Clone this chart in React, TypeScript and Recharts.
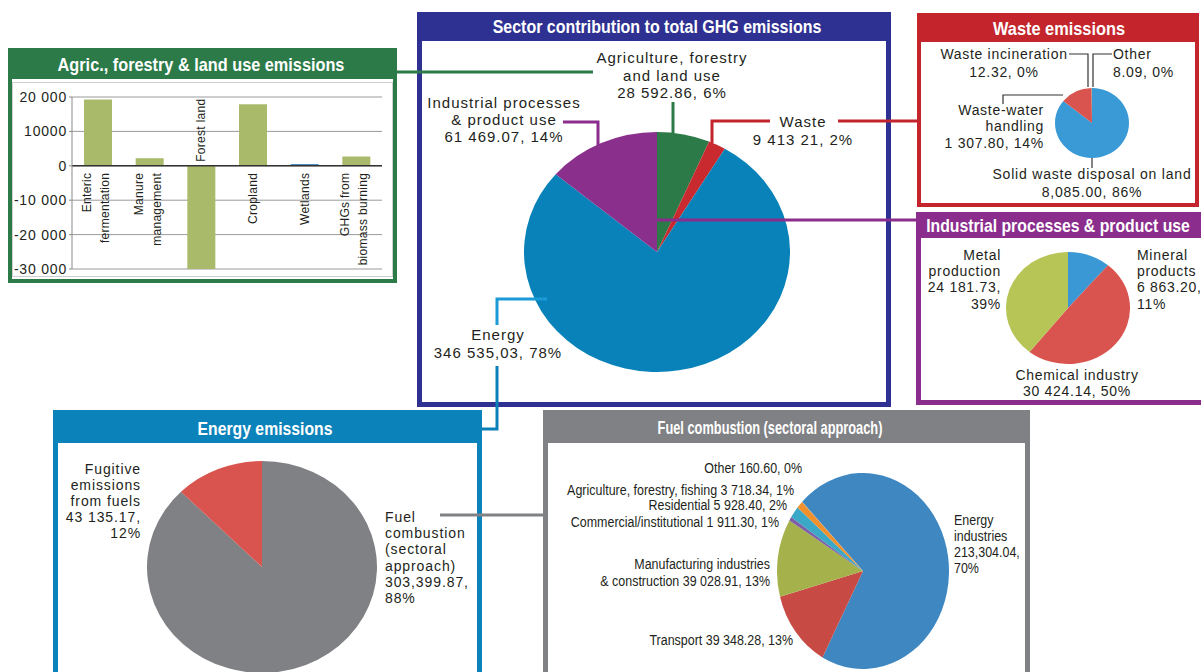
import {
  Bar,
  BarChart,
  CartesianGrid,
  Cell,
  LabelList,
  Pie,
  PieChart,
  ReferenceLine,
  XAxis,
  YAxis,
} from "recharts";

// sector totals (main pie)
const sectorNames = ["Agriculture, forestry and land use", "Waste", "Energy", "Industrial processes & product use"];
const sectorValues = [28592.86, 9413.21, 346535.03, 61469.07];
const sectorColors = ["#2b7a48", "#c92a2f", "#0882b9", "#8b2f8c"];

// agric, forestry & land use bars
const agriCats = ["Enteric\nfermentation", "Manure\nmanagement", "Forest land", "Cropland", "Wetlands", "GHGs from\nbiomass burning"];
const agriValues = [19300, 2200, -30000, 17900, 500, 2700];
const agriColors = ["#a9bb6a", "#a9bb6a", "#a9bb6a", "#a9bb6a", "#3f86c6", "#a9bb6a"];
const agriTicks = [-30000, -20000, -10000, 0, 10000, 20000];
const agriTickLabels = ["-30 000", "-20 000", "-10 000", "0", "10000", "20 000"];

const wasteNames = ["Solid waste disposal on land", "Waste-water handling", "Waste incineration", "Other"];
const wasteValues = [8085.0, 1307.8, 12.32, 8.09];
const wasteColors = ["#3a9ad6", "#d9534f", "#8064a2", "#b5c653"];

const industryNames = ["Mineral products", "Chemical industry", "Metal production"];
const industryValues = [6863.2, 30424.14, 24181.73];
const industryColors = ["#3a98d4", "#d9534f", "#b6c555"];

const energyNames = ["Fuel combustion (sectoral approach)", "Fugitive emissions from fuels"];
const energyValues = [303399.87, 43135.17];
const energyColors = ["#808184", "#d9534f"];

const fuelNames = [
  "Energy industries",
  "Transport",
  "Manufacturing industries & construction",
  "Commercial/institutional",
  "Residential",
  "Agriculture, forestry, fishing",
  "Other",
];
const fuelValues = [213304.04, 39348.28, 39028.91, 1911.3, 5928.4, 3718.34, 160.6];
const fuelColors = ["#3f87c1", "#c84a45", "#a5b24c", "#7c5fa6", "#3aa8c6", "#f0912d", "#9a9a9a"];

const FONT = '"Liberation Sans", Arial, sans-serif';
const INK = "#231f20";
const TITLE_FONT = `bold 18px ${FONT}`;

const panels = [
  { title: "Agric., forestry & land use emissions", color: "#2b7a48", x: 8, y: 48, w: 389, h: 235, th: 31, b: 4, tx: 201, ty: 64, tw: 287 },
  { title: "Sector contribution to total GHG emissions", color: "#2e3192", x: 417, y: 12, w: 474, h: 395, th: 29, b: 5, tx: 657, ty: 26, tw: 329 },
  { title: "Waste emissions", color: "#c4242b", x: 917, y: 13, w: 282, h: 194, th: 29, b: 4, tx: 1059, ty: 28, tw: 132 },
  { title: "Industrial processes & product use", color: "#8a2d8c", x: 916, y: 212, w: 290, h: 193, th: 26, b: 5, tx: 1058, ty: 225, tw: 264 },
  { title: "Energy emissions", color: "#0b82ba", x: 53, y: 410, w: 429, h: 280, th: 33, b: 5, tx: 265, ty: 428, tw: 135 },
  { title: "Fuel combustion (sectoral approach)", color: "#808184", x: 543, y: 410, w: 487, h: 280, th: 33, b: 5, tx: 770, ty: 427, tw: 225 },
];

// squeeze titles to the width they have in the picture
const ctx = document.createElement("canvas").getContext("2d");
const textWidth = (t: string, font: string) => {
  if (!ctx) return t.length * 10;
  ctx.font = font;
  return ctx.measureText(t).width;
};

const EllipsePie = ({ names, values, colors, cx, cy, rx, ry, start }: any) => {
  const R = Math.max(rx, ry);
  const data = names.map((n: string, i: number) => ({ name: n, value: values[i] }));
  return (
    <div style={{ position: "absolute", left: cx - rx, top: cy - ry, width: 2 * rx, height: 2 * ry }}>
      <div style={{ width: 2 * R, height: 2 * R, transform: `scale(${rx / R}, ${ry / R})`, transformOrigin: "0 0" }}>
        <PieChart width={2 * R} height={2 * R} margin={{ top: 0, right: 0, bottom: 0, left: 0 }}>
          <Pie
            data={data}
            dataKey="value"
            nameKey="name"
            cx={R}
            cy={R}
            outerRadius={R}
            startAngle={start}
            endAngle={start - 360}
            stroke="none"
            isAnimationActive={false}
          >
            {colors.map((c: string, i: number) => (
              <Cell key={i} fill={c} />
            ))}
          </Pie>
        </PieChart>
      </div>
    </div>
  );
};

const Lbl = ({ x, y, lines, anchor = "middle", size = 14, ls = 0.7, lh = 16, sx = 1 }: any) => (
  <text
    transform={`translate(${x},${y + size * 0.35}) scale(${sx},1)`}
    textAnchor={anchor}
    fontSize={size}
    letterSpacing={ls}
    fill={INK}
  >
    {lines.map((l: string, i: number) => (
      <tspan key={i} x={0} dy={i === 0 ? 0 : lh}>
        {l}
      </tspan>
    ))}
  </text>
);

// rotated category names sitting on the zero line
const CatLabel = (props: any) => {
  const vb = props.viewBox || props;
  const { x, y, width, height } = vb;
  const i = props.index;
  const v = agriValues[i];
  const zeroY = v < 0 ? Math.min(y, y + height) : Math.max(y, y + height);
  const cx = x + width / 2;
  const lines = agriCats[i].split("\n");
  const by = v < 0 ? zeroY - 4 : zeroY + 7;
  const offs = lines.length === 1 ? [4] : [-7, 11];
  return (
    <g>
      {lines.map((l, k) => (
        <text
          key={k}
          x={cx + offs[k]}
          y={by}
          transform={`rotate(-90 ${cx + offs[k]} ${by})`}
          textAnchor={v < 0 ? "start" : "end"}
          fontSize={12}
          letterSpacing={0.3}
          fill={INK}
        >
          {l}
        </text>
      ))}
    </g>
  );
};

const AgriBars = () => {
  const data = agriCats.map((c, i) => ({ name: c, value: agriValues[i] }));
  return (
    <div style={{ position: "absolute", left: 12, top: 82, width: 381, height: 195, boxSizing: "border-box", border: "1px solid #cfcfcf" }}>
      <div style={{ position: "absolute", left: -1, top: -1 }}>
        <BarChart width={381} height={195} data={data} margin={{ top: 15, right: 11, bottom: 8, left: 8 }}>
          <CartesianGrid vertical={false} stroke="#9a9a9a" />
          <XAxis dataKey="name" hide />
          <YAxis
            width={52}
            domain={[-30000, 20000]}
            ticks={agriTicks}
            tickFormatter={(v) => agriTickLabels[agriTicks.indexOf(v)]}
            tick={{ fontSize: 14, fill: INK, letterSpacing: 0.8 }}
            axisLine={{ stroke: "#8a8a8a" }}
            tickLine={{ stroke: "#8a8a8a" }}
            tickSize={3}
            tickMargin={2}
          />
          <ReferenceLine y={0} stroke="#333" strokeWidth={1.5} />
          <Bar dataKey="value" barSize={28} isAnimationActive={false}>
            {agriColors.map((c, i) => (
              <Cell key={i} fill={c} />
            ))}
            <LabelList dataKey="name" content={<CatLabel />} />
          </Bar>
        </BarChart>
      </div>
    </div>
  );
};

export default function App() {
  return (
    <div
      style={{
        position: "absolute",
        left: 0,
        top: 0,
        width: 1201,
        height: 672,
        overflow: "hidden",
        background: "#fff",
        fontFamily: FONT,
      }}
    >
      {panels.map((p) => (
        <div key={p.title} style={{ position: "absolute", left: p.x, top: p.y, width: p.w, height: p.h, background: p.color }}>
          <div style={{ position: "absolute", left: p.b, right: p.b, top: p.th, bottom: p.b, background: "#fff" }} />
        </div>
      ))}

      <AgriBars />

      <EllipsePie names={sectorNames} values={sectorValues} colors={sectorColors} cx={657} cy={252} rx={133} ry={120} start={90} />
      <EllipsePie names={wasteNames} values={wasteValues} colors={wasteColors} cx={1092} cy={123} rx={37} ry={35} start={90} />
      <EllipsePie names={industryNames} values={industryValues} colors={industryColors} cx={1068} cy={308} rx={62} ry={56} start={90} />
      <EllipsePie names={energyNames} values={energyValues} colors={energyColors} cx={262} cy={567} rx={115} ry={106} start={90} />
      <EllipsePie names={fuelNames} values={fuelValues} colors={fuelColors} cx={863} cy={571} rx={86} ry={98} start={135} />

      <svg
        width={1201}
        height={672}
        style={{ position: "absolute", left: 0, top: 0, pointerEvents: "none", fontFamily: FONT }}
      >
        {panels.map((p) => (
          <text
            key={p.title}
            transform={`translate(${p.tx},${p.ty + 6.5}) scale(${p.tw / textWidth(p.title, TITLE_FONT)},1)`}
            textAnchor="middle"
            fontSize={18}
            fontWeight={700}
            fill="#fff"
          >
            {p.title}
          </text>
        ))}

        {/* connectors */}
        <g fill="none" strokeWidth={3}>
          <path d="M397,72 H593 M673,102 V133" stroke="#2b7a48" />
          <path d="M563,122 H598 V145 M657,220 H916" stroke="#8a2d8c" />
          <path d="M712,143 V121 H770 M838,121 H917" stroke="#c4242b" />
          <path d="M547,299 H497 V325" stroke="#1a9ad6" />
          <path d="M497,366 V429 H482" stroke="#0a7fb8" />
          <path d="M440,515 H543" stroke="#808184" />
        </g>
        <g fill="none" strokeWidth={1.2} stroke="#333">
          <path d="M1069,54 H1088 V87 M1112,54 H1093 V87 M1003,104 V95 H1063 M1092,158 V168" />
        </g>

        {/* main pie labels */}
        <Lbl x={672} y={58} lines={["Agriculture, forestry", "and land  use", "28 592.86, 6%"]} size={15} ls={1} lh={17.5} />
        <Lbl x={504} y={103} lines={["Industrial processes", "& product use", "61 469.07, 14%"]} size={15} ls={1} lh={17} />
        <Lbl x={803} y={122} lines={["Waste", "9 413 21, 2%"]} size={15} ls={1} lh={18} />
        <Lbl x={498} y={335} lines={["Energy", "346 535,03, 78%"]} size={15} ls={1} lh={18} />

        {/* waste labels */}
        <Lbl x={1004} y={54} lines={["Waste incineration", "12.32, 0%"]} lh={18} />
        <Lbl x={1113} y={54} anchor="start" lines={["Other", "8.09, 0%"]} lh={18} />
        <Lbl x={1044} y={110} anchor="end" lines={["Waste-water", "handling", "1 307.80, 14%"]} lh={16.5} />
        <Lbl x={1092} y={174} lines={["Solid waste disposal on land", "8,085.00, 86%"]} lh={18} ls={0.8} />

        {/* industrial labels */}
        <Lbl x={1001} y={255} anchor="end" lines={["Metal", "production", "24 181.73,", "39%"]} lh={16.3} />
        <Lbl x={1137} y={255} anchor="start" lines={["Mineral", "products", "6 863.20,", "11%"]} lh={16.3} />
        <Lbl x={1077} y={375} lines={["Chemical industry", "30 424.14, 50%"]} lh={16} />

        {/* energy labels */}
        <Lbl x={141} y={469} anchor="end" lines={["Fugitive", "emissions", "from fuels", "43 135.17,", "12%"]} lh={16} ls={0.9} />
        <Lbl x={385} y={517} anchor="start" lines={["Fuel", "combustion", "(sectoral", "approach)", "303,399.87,", "88%"]} lh={16.3} ls={0.9} />

        {/* fuel combustion labels */}
        <Lbl x={802} y={468} anchor="end" sx={0.89} ls={0} lines={["Other 160.60, 0%"]} />
        <Lbl x={794} y={490} anchor="end" sx={0.89} ls={0} lines={["Agriculture, forestry, fishing 3 718.34, 1%"]} />
        <Lbl x={787} y={505} anchor="end" sx={0.89} ls={0} lines={["Residential 5 928.40, 2%"]} />
        <Lbl x={779} y={522} anchor="end" sx={0.89} ls={0} lines={["Commercial/institutional 1 911.30, 1%"]} />
        <Lbl x={770} y={564} anchor="end" sx={0.89} ls={0} lh={17} lines={["Manufacturing industries", "& construction 39 028.91, 13%"]} />
        <Lbl x={793} y={640} anchor="end" sx={0.89} ls={0} lines={["Transport  39 348.28, 13%"]} />
        <Lbl x={954} y={520} anchor="start" sx={0.89} ls={0} lh={16} lines={["Energy", "industries", "213,304.04,", "70%"]} />
      </svg>
    </div>
  );
}
